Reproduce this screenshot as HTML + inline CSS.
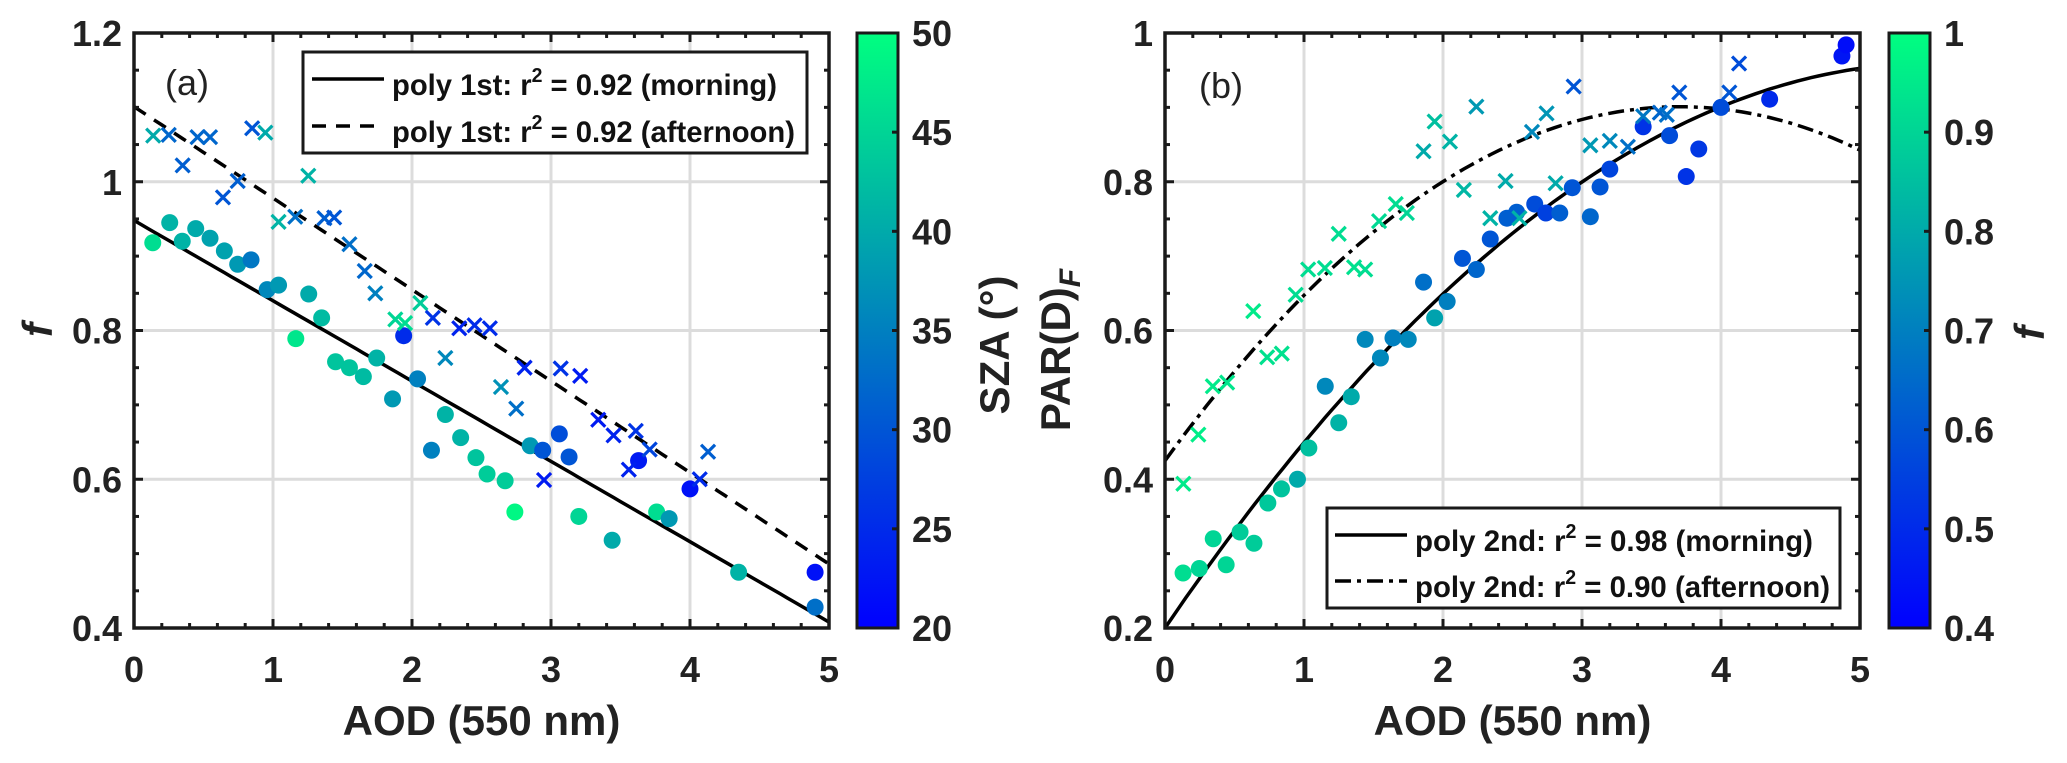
<!DOCTYPE html>
<html><head><meta charset="utf-8"><style>
html,body{margin:0;padding:0;background:#fff;}
svg{display:block;font-family:"Liberation Sans",Arial,sans-serif;}
</style></head><body>
<svg id="fig" width="2067" height="763" viewBox="0 0 2067 763">
<defs>
<linearGradient id="winter" x1="0" y1="1" x2="0" y2="0">
<stop offset="0" stop-color="rgb(0,0,255)"/><stop offset="1" stop-color="rgb(0,255,128)"/>
</linearGradient>
</defs>
</svg>
<script>
// ---------- data: panel (a) ----------
const aMornX=[0.135,0.257,0.347,0.444,0.547,0.65,0.746,0.842,0.958,1.04,1.164,1.257,1.35,1.45,1.55,1.65,1.746,1.86,1.94,2.04,2.14,2.24,2.35,2.46,2.54,2.67,2.74,2.85,2.94,3.06,3.13,3.2,3.44,3.63,3.76,3.85,4.0,4.35,4.9,4.9];
const aMornY=[0.918,0.945,0.92,0.937,0.924,0.907,0.889,0.895,0.855,0.861,0.789,0.849,0.817,0.758,0.75,0.738,0.763,0.708,0.793,0.735,0.639,0.687,0.656,0.629,0.607,0.598,0.556,0.645,0.639,0.661,0.63,0.55,0.518,0.625,0.556,0.547,0.587,0.475,0.475,0.428];
const aMornC=[46,41,41,40,39,39,38,34,36,38,47,40,42,43,43,42,41,38,25,35,35,41,41,43,44,44,49,38,30,29,30,45,40,23,46,38,22,41,22,33];
const aAftX=[0.138,0.25,0.35,0.457,0.547,0.64,0.746,0.85,0.945,1.04,1.16,1.254,1.37,1.44,1.55,1.66,1.736,1.88,1.95,2.06,2.15,2.24,2.34,2.45,2.56,2.64,2.75,2.81,2.95,3.07,3.21,3.34,3.45,3.56,3.61,3.71,4.07,4.13];
const aAftY=[1.062,1.063,1.022,1.06,1.06,0.979,1.001,1.072,1.066,0.946,0.953,1.008,0.951,0.952,0.916,0.88,0.85,0.815,0.81,0.837,0.817,0.763,0.803,0.807,0.803,0.724,0.695,0.75,0.599,0.749,0.739,0.68,0.659,0.613,0.665,0.64,0.6,0.637];
const aAftC=[40,32,31,32,32,30,31,30,40,41,33,41,31,30,33,32,35,45,46,44,26,36,24,25,25,37,33,24,23,26,23,23,24,24,26,28,25,31];
const aFitMorn=[0.948,-0.108];   // intercept, slope
const aFitAft=[1.101,-0.123];
// ---------- data: panel (b) ----------
const bMornX=[0.13,0.247,0.347,0.44,0.54,0.64,0.74,0.838,0.953,1.035,1.153,1.25,1.34,1.44,1.55,1.64,1.75,1.86,1.94,2.03,2.14,2.24,2.34,2.46,2.53,2.66,2.74,2.84,2.93,3.06,3.13,3.2,3.44,3.63,3.75,3.84,4.0,4.35,4.87,4.9];
const bMornY=[0.274,0.28,0.32,0.285,0.329,0.314,0.368,0.387,0.4,0.442,0.525,0.476,0.511,0.588,0.563,0.59,0.588,0.665,0.617,0.639,0.697,0.682,0.723,0.751,0.759,0.77,0.758,0.758,0.792,0.753,0.793,0.817,0.874,0.862,0.807,0.844,0.9,0.911,0.969,0.984];
const bMornC=[0.92,0.9,0.9,0.9,0.88,0.88,0.87,0.86,0.8,0.85,0.72,0.82,0.8,0.72,0.72,0.7,0.72,0.66,0.78,0.7,0.6,0.64,0.6,0.62,0.62,0.58,0.55,0.62,0.6,0.64,0.6,0.56,0.52,0.58,0.52,0.53,0.58,0.5,0.45,0.43];
const bAftX=[0.132,0.24,0.344,0.447,0.635,0.735,0.84,0.94,1.03,1.15,1.25,1.36,1.44,1.54,1.66,1.74,1.86,1.94,2.05,2.15,2.24,2.34,2.45,2.55,2.64,2.745,2.81,2.94,3.06,3.2,3.33,3.44,3.56,3.61,3.7,4.06,4.13];
const bAftY=[0.394,0.46,0.525,0.53,0.626,0.564,0.569,0.648,0.682,0.684,0.73,0.685,0.682,0.747,0.77,0.758,0.841,0.881,0.854,0.789,0.901,0.751,0.801,0.751,0.867,0.892,0.798,0.928,0.849,0.855,0.847,0.888,0.893,0.89,0.92,0.92,0.959];
const bAftC=[0.95,0.96,0.95,0.94,0.95,0.93,0.93,0.92,0.92,0.92,0.92,0.93,0.92,0.91,0.92,0.9,0.8,0.85,0.82,0.83,0.76,0.82,0.8,0.82,0.72,0.75,0.8,0.6,0.76,0.72,0.66,0.68,0.64,0.66,0.6,0.6,0.58];
const bFitMorn=[0.2,0.274,-0.0247];   // c0,c1,c2
const bFitAft=[0.425,0.257,-0.0347];
const xTicks=[0,1,2,3,4,5];
const aYTicks=["0.4","0.6","0.8","1","1.2"];
const bYTicks=["0.2","0.4","0.6","0.8","1"];
const aCbTicks=["20","25","30","35","40","45","50"];
const bCbTicks=["0.4","0.5","0.6","0.7","0.8","0.9","1"];

const NS="http://www.w3.org/2000/svg";
const svg=document.getElementById('fig');
function mk(tag,attrs,parent){const e=document.createElementNS(NS,tag);for(const k in attrs)e.setAttribute(k,attrs[k]);(parent||svg).appendChild(e);return e;}
function winter(t){t=Math.max(0,Math.min(1,t));return `rgb(0,${Math.round(255*t)},${Math.round(255*(1-0.5*t))})`;}

function panel(P){
  const g=mk('g',{});
  
  
  const X=v=>P.x0+(v-P.xmin)/(P.xmax-P.xmin)*(P.x1-P.x0);
  const Y=v=>P.y1-(v-P.ymin)/(P.ymax-P.ymin)*(P.y1-P.y0);
  // grid
  xTicks.forEach(t=>{if(t>0&&t<5){const l=mk('line',{x1:X(t),x2:X(t),y1:P.y0,y2:P.y1,stroke:'#dcdcdc','stroke-width':3},g);}});
  P.yt.forEach(s=>{const v=parseFloat(s);if(v>P.ymin&&v<P.ymax){const l=mk('line',{x1:P.x0,x2:P.x1,y1:Y(v),y2:Y(v),stroke:'#dcdcdc','stroke-width':3},g);}});
  // fit lines
  const clip=mk('clipPath',{id:P.name+'-clip'},g);mk('rect',{x:P.x0,y:P.y0,width:P.x1-P.x0,height:P.y1-P.y0},clip);
  P.fits.forEach(f=>{let d='';for(let i=0;i<=100;i++){const xv=5*i/100;let yv=0;f.c.forEach((c,k)=>yv+=c*Math.pow(xv,k));d+=(i?'L':'M')+X(xv).toFixed(1)+','+Y(yv).toFixed(1);}
    const p=mk('path',{d:d,fill:'none',stroke:'#000','stroke-width':3.5,'stroke-dasharray':f.dash,'clip-path':`url(#${P.name}-clip)`},g);
    });
  // points
  P.cx.forEach((xv,i)=>{const c=mk('circle',{cx:X(xv),cy:Y(P.cy[i]),r:8.5,fill:winter((P.cc[i]-P.cmin)/(P.cmax-P.cmin))},g);
    });
  P.xx.forEach((xv,i)=>{const px=X(xv),py=Y(P.xy[i]),s=7,col=winter((P.xc[i]-P.cmin)/(P.cmax-P.cmin));
    const p=mk('path',{d:`M${px-s},${py-s}L${px+s},${py+s}M${px-s},${py+s}L${px+s},${py-s}`,stroke:col,'stroke-width':3.2,fill:'none'},g);
    });
  // frame
  const fr=mk('rect',{x:P.x0,y:P.y0,width:P.x1-P.x0,height:P.y1-P.y0,fill:'none',stroke:'#1a1a1a','stroke-width':3.5},g);
  
  // ticks
  for(let v=0;v<=5.001;v+=0.2){const px=X(v),L=Math.abs(v-Math.round(v))<1e-6?9:5;
    mk('line',{x1:px,x2:px,y1:P.y1,y2:P.y1-L,stroke:'#1a1a1a','stroke-width':3},g);mk('line',{x1:px,x2:px,y1:P.y0,y2:P.y0+L,stroke:'#1a1a1a','stroke-width':3},g);}
  for(let v=P.ymin;v<=P.ymax+1e-6;v+=0.05){const py=Y(v),maj=Math.abs(v*5-Math.round(v*5))<1e-6,L=maj?9:5;
    mk('line',{x1:P.x0,x2:P.x0+L,y1:py,y2:py,stroke:'#1a1a1a','stroke-width':3},g);mk('line',{x1:P.x1,x2:P.x1-L,y1:py,y2:py,stroke:'#1a1a1a','stroke-width':3},g);}
  xTicks.forEach(t=>{const tx=mk('text',{x:X(t),y:682,'font-size':36,'font-weight':'bold','text-anchor':'middle',fill:'#222'},g);tx.textContent=t;
    });
  P.yt.forEach(s=>{const tx=mk('text',{x:P.x0-12,y:Y(parseFloat(s))+13,'font-size':36,'font-weight':'bold','text-anchor':'end',fill:'#222'},g);tx.textContent=s;
    });
  const xl=mk('text',{x:(P.x0+P.x1)/2,y:735,'font-size':42,'font-weight':'bold','text-anchor':'middle',fill:'#222'},g);xl.textContent='AOD (550 nm)';
  
  const pl=mk('text',{x:P.lab[0],y:P.lab[1],'font-size':36,fill:'#222'},g);pl.textContent=P.label;
  
  // colorbar
  const cb=mk('rect',{x:P.cbx,y:P.y0,width:41,height:P.y1-P.y0,fill:'url(#winter)',stroke:'#1a1a1a','stroke-width':3},g);
  
  P.cbt.forEach((s,i)=>{const py=P.y1-i/(P.cbt.length-1)*(P.y1-P.y0);
    if(i>0&&i<P.cbt.length-1)mk('line',{x1:P.cbx+41,x2:P.cbx+35,y1:py,y2:py,stroke:'#1a1a1a','stroke-width':3},g);
    const tx=mk('text',{x:P.cbx+55,y:py+13,'font-size':36,'font-weight':'bold',fill:'#222'},g);tx.textContent=s;
    });
  // legend
  const L=P.leg;
  const lg=mk('g',{},g);
  mk('rect',{x:L.x,y:L.y,width:L.w,height:L.h,fill:'#fff',stroke:'#1a1a1a','stroke-width':3},lg);
  L.rows.forEach((r,i)=>{const yy=L.ly[i];
    mk('line',{x1:L.sx,x2:L.sx+72,y1:yy,y2:yy,stroke:'#000','stroke-width':3.5,'stroke-dasharray':r.dash},lg);
    const t=mk('text',{x:L.tx,y:yy+16,'font-size':30,'font-weight':'bold',fill:'#111',textLength:r.len,lengthAdjust:'spacingAndGlyphs'},lg);
    
    const a=mk('tspan',{},t);a.textContent=r.pre+' r';
    const b=mk('tspan',{dy:-13,'font-size':20},t);b.textContent='2';
    const c=mk('tspan',{dy:13},t);c.textContent=' = '+r.post;});
}

panel({name:'panel-a',x0:134,x1:829,y0:33,y1:628,xmin:0,xmax:5,ymin:0.4,ymax:1.2,yt:aYTicks,
  cx:aMornX,cy:aMornY,cc:aMornC,xx:aAftX,xy:aAftY,xc:aAftC,cmin:20,cmax:50,
  fits:[{c:aFitMorn,dash:'none',name:'morning-fit-line'},{c:aFitAft,dash:'14 10',name:'afternoon-fit-line'}],
  label:'(a)',lab:[165,95],cbx:857,cbt:aCbTicks,
  leg:{x:303,y:52,w:504,h:101,sx:312,tx:392,ly:[79,126],rows:[
    {pre:'poly 1st:',post:'0.92 (morning)',dash:'none',len:385},
    {pre:'poly 1st:',post:'0.92 (afternoon)',dash:'14 10',len:403}]}});
panel({name:'panel-b',x0:1165,x1:1860,y0:33,y1:628,xmin:0,xmax:5,ymin:0.2,ymax:1.0,yt:bYTicks,
  cx:bMornX,cy:bMornY,cc:bMornC,xx:bAftX,xy:bAftY,xc:bAftC,cmin:0.4,cmax:1.0,
  fits:[{c:bFitMorn,dash:'none',name:'morning-fit-curve'},{c:bFitAft,dash:'16 6 4 6',name:'afternoon-fit-curve'}],
  label:'(b)',lab:[1199,98],cbx:1889,cbt:bCbTicks,
  leg:{x:1327,y:508,w:513,h:100,sx:1335,tx:1415,ly:[535,581],rows:[
    {pre:'poly 2nd:',post:'0.98 (morning)',dash:'none',len:398},
    {pre:'poly 2nd:',post:'0.90 (afternoon)',dash:'16 6 4 6',len:415}]}});

// axis titles
function vt(txt,x,y,name,opts){const t=mk('text',Object.assign({x:0,y:0,'font-size':42,'font-weight':'bold','text-anchor':'middle',fill:'#222',transform:`translate(${x},${y}) rotate(-90)`},opts||{}));t.textContent=txt;
  return t;}
vt('f',52,330,'y-axis-title-a',{'font-style':'italic'});
vt('SZA (°)',1009,345,'colorbar-title-a');
const pt=vt('PAR(D)',1070,350,'y-axis-title-b');
const sub=mk('tspan',{dy:10,'font-size':30,'font-style':'italic'},pt);sub.textContent='F';
vt('f',2044,333,'colorbar-title-b',{'font-style':'italic'});
</script>
</body></html>
